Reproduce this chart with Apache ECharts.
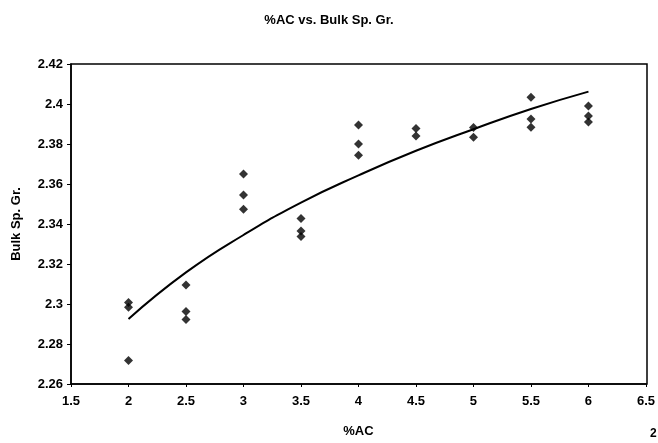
<!DOCTYPE html>
<html>
<head>
<meta charset="utf-8">
<script src="https://cdn.jsdelivr.net/npm/echarts@6/dist/echarts.min.js"></script>
<style>html,body{margin:0;padding:0;background:#fff;}#c{width:658px;height:443px;}</style>
</head>
<body>
<div id="c"></div>
<script>
const titleText = '%AC vs. Bulk Sp. Gr.';
const xName = '%AC';
const yName = 'Bulk Sp. Gr.';
const acPct = [2, 2, 2, 2.5, 2.5, 2.5, 3, 3, 3, 3.5, 3.5, 3.5, 4, 4, 4, 4.5, 4.5, 5, 5, 5.5, 5.5, 5.5, 6, 6, 6];
const bulkSpGr = [2.3007, 2.2984, 2.2717, 2.3095, 2.2962, 2.2923, 2.365, 2.3545, 2.3474, 2.3428, 2.3365, 2.3337, 2.3895, 2.380, 2.3744, 2.3878, 2.384, 2.3882, 2.3834, 2.4034, 2.3925, 2.3884, 2.399, 2.394, 2.391];
const trendX = [2, 2.5, 3, 3.5, 4, 4.5, 5, 5.5, 6];
const trendY = [2.2925, 2.3158, 2.3345, 2.3507, 2.3643, 2.3766, 2.3874, 2.3975, 2.4062];

const chart = echarts.init(document.getElementById('c'));
const font = 'Liberation Sans, Arial, sans-serif';
chart.setOption({
  animation: false,
  title: {
    text: titleText, left: 'center', top: 9,
    textStyle: {fontFamily: font, fontSize: 13, fontWeight: 'bold', color: '#000'}
  },
  grid: {left: 71, right: 11, top: 64, bottom: 59},
  xAxis: {
    type: 'value', min: 1.5, max: 6.5, interval: 0.5,
    name: xName, nameLocation: 'middle', nameGap: 41,
    nameTextStyle: {fontFamily: font, fontSize: 13, fontWeight: 'bold', color: '#000'},
    axisLine: {lineStyle: {color: '#000', width: 1.5}},
    axisTick: {show: true, length: 3, lineStyle: {color: '#000'}},
    axisLabel: {fontFamily: font, fontSize: 13, fontWeight: 'bold', color: '#000', margin: 11},
    splitLine: {show: false}
  },
  yAxis: {
    type: 'value', min: 2.26, max: 2.42, interval: 0.02,
    name: yName, nameLocation: 'middle', nameGap: 48, nameRotate: 90,
    nameTextStyle: {fontFamily: font, fontSize: 13, fontWeight: 'bold', color: '#000'},
    axisLine: {show: true, lineStyle: {color: '#000', width: 1.5}},
    axisTick: {show: true, length: 4, lineStyle: {color: '#000'}},
    axisLabel: {fontFamily: font, fontSize: 13, fontWeight: 'bold', color: '#000', margin: 8,
      formatter: v => String(parseFloat(v.toFixed(2)))},
    splitLine: {show: false}
  },
  graphic: [
    {type: 'rect', shape: {x: 71, y: 64, width: 576, height: 320}, style: {fill: 'none', stroke: '#000', lineWidth: 1.5}, silent: true},
    {type: 'text', left: 650, top: 428, style: {text: '2', font: 'bold 12px ' + font, fill: '#000'}}
  ],
  series: [
    {
      type: 'scatter', symbol: 'diamond', symbolSize: 9,
      itemStyle: {color: '#000'},
      data: acPct.map((x, i) => [x, bulkSpGr[i]])
    },
    {
      type: 'line', smooth: true, showSymbol: false,
      lineStyle: {color: '#000', width: 2},
      data: trendX.map((x, i) => [x, trendY[i]])
    }
  ]
});
</script>
</body>
</html>
